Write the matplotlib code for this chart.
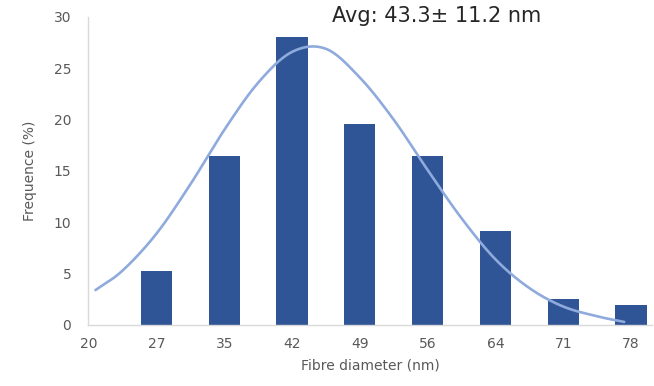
import matplotlib.pyplot as plt
import numpy as np

# histogram data
diameters = ['20', '27', '35', '42', '49', '56', '64', '71', '78']
frequence = [0, 5.3, 16.5, 28.1, 19.6, 16.5, 9.2, 2.5, 1.9]

# fitted curve (x in category index units)
curve_x = [0.1, 0.5, 1, 1.5, 2, 2.5, 3, 3.5, 4, 4.5, 5, 5.5, 6, 6.5, 7, 7.5, 7.9]
curve_y = [3.4, 5.3, 8.9, 13.7, 19.0, 23.6, 26.6, 26.9, 24.1, 20.0, 15.1, 10.4, 6.4, 3.6, 1.8, 0.85, 0.3]

title = 'Avg: 43.3\u00b1 11.2 nm'


def smooth_line(xs, ys, steps=12):
    # catmull-rom style smoothing, like a spreadsheet "smoothed line"
    pts = np.column_stack([xs, ys])
    pts = np.vstack([2 * pts[0] - pts[1], pts, 2 * pts[-1] - pts[-2]])
    out = []
    t = np.linspace(0, 1, steps, endpoint=False)[:, None]
    for i in range(1, len(pts) - 2):
        p0, p1, p2, p3 = pts[i - 1], pts[i], pts[i + 1], pts[i + 2]
        seg = 0.5 * ((2 * p1) + (-p0 + p2) * t
                     + (2 * p0 - 5 * p1 + 4 * p2 - p3) * t ** 2
                     + (-p0 + 3 * p1 - 3 * p2 + p3) * t ** 3)
        out.append(seg)
    out.append(pts[-2][None, :])
    out = np.vstack(out)
    return out[:, 0], out[:, 1]


fig = plt.figure(figsize=(6.54, 3.86), dpi=100)
ax = fig.add_axes([88 / 654, 1 - 325 / 386, 564 / 654, 308 / 386])

pos = np.arange(len(diameters))
ax.bar(pos, frequence, width=0.46, color='#2F5597', zorder=2)

sx, sy = smooth_line(curve_x, curve_y)
ax.plot(sx, sy, color='#8FAADC', lw=1.9, zorder=3, solid_capstyle='round')

ax.set_xlim(-0.01, 8.31)
ax.set_ylim(0, 30)
ax.set_xticks(pos)
ax.set_xticklabels(diameters)
ax.set_yticks(range(0, 31, 5))

for s in ['top', 'right']:
    ax.spines[s].set_visible(False)
for s in ['left', 'bottom']:
    ax.spines[s].set_color('#D9D9D9')
    ax.spines[s].set_linewidth(1.0)
ax.tick_params(length=0, labelsize=10, labelcolor='#595959')
ax.tick_params(axis='x', pad=9)
ax.tick_params(axis='y', pad=12)

ax.set_xlabel('Fibre diameter (nm)', fontsize=10, color='#595959', labelpad=5)
ax.set_ylabel('Frequence (%)', fontsize=10, color='#595959', labelpad=12)

fig.text(437 / 654, 1 - 16 / 386, title, fontsize=15, color='#262626',
         ha='center', va='center')

fig.savefig('out.png', dpi=100)
